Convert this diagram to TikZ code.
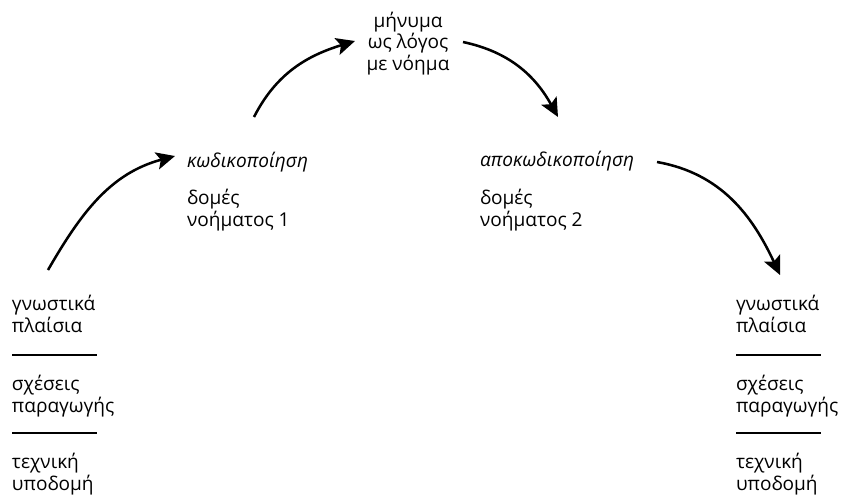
\documentclass[tikz,border=0pt]{standalone}
\usepackage{fontspec}
\setmainfont{Open Sans}
\usetikzlibrary{arrows.meta}
\begin{document}
\begin{tikzpicture}[x=0.75pt,y=-0.75pt,
  txt/.style={inner sep=0pt,outer sep=0pt,align=left,anchor=base west,
    font=\fontsize{14.3}{14.8}\selectfont},
  ctxt/.style={txt,align=center,anchor=base},
  flow/.style={line width=1.9pt,-{Stealth[length=14pt,width=13pt,inset=3pt]}},
  rule/.style={line width=1.3pt}]
\useasboundingbox (0,0) rectangle (841,494);
% left stack (anchors at last-line baselines)
\node[txt] (lg) at (12,332) {γνωστικά\\πλαίσια};
\node[txt] (lp) at (12,412) {σχέσεις\\παραγωγής};
\node[txt] (lt) at (12,490) {τεχνική\\υποδομή};
\coordinate (l1a) at (12,355); \coordinate (l1b) at (97,355);
\coordinate (l2a) at (12,433); \coordinate (l2b) at (97,433);
\draw[rule] (l1a) -- (l1b);
\draw[rule] (l2a) -- (l2b);
% right stack
\node[txt] (rg) at (736,332) {γνωστικά\\πλαίσια};
\node[txt] (rp) at (736,412) {σχέσεις\\παραγωγής};
\node[txt] (rt) at (736,490) {τεχνική\\υποδομή};
\coordinate (r1a) at (736,355); \coordinate (r1b) at (821,355);
\coordinate (r2a) at (736,433); \coordinate (r2b) at (821,433);
\draw[rule] (r1a) -- (r1b);
\draw[rule] (r2a) -- (r2b);
% encoding / decoding
\node[txt,font=\fontsize{14.3}{14.8}\selectfont\itshape] (enc) at (187,167) {κωδικοποίηση};
\node[txt] (ms1) at (187,226) {δομές\\νοήματος 1};
\node[txt,font=\fontsize{14.3}{14.8}\selectfont\itshape] (dec) at (480,166) {αποκωδικοποίηση};
\node[txt] (ms2) at (480,226) {δομές\\νοήματος 2};
% message
\node[ctxt] (msg) at (408,70) {μήνυμα\\ως λόγος\\με νόημα};
% arrows
\coordinate (a1s) at (48,270); \coordinate (a1e) at (175,156);
\coordinate (a2s) at (254,117); \coordinate (a2e) at (355,41);
\coordinate (a3s) at (463,42); \coordinate (a3e) at (558,117);
\coordinate (a4s) at (657,162); \coordinate (a4e) at (780,275);
\draw[flow] (a1s) to[out=60,in=195] (a1e);
\draw[flow] (a2s) to[out=63,in=197] (a2e);
\draw[flow] (a3s) to[out=-12,in=119] (a3e);
\draw[flow] (a4s) to[out=-10,in=115] (a4e);
\end{tikzpicture}
\end{document}
